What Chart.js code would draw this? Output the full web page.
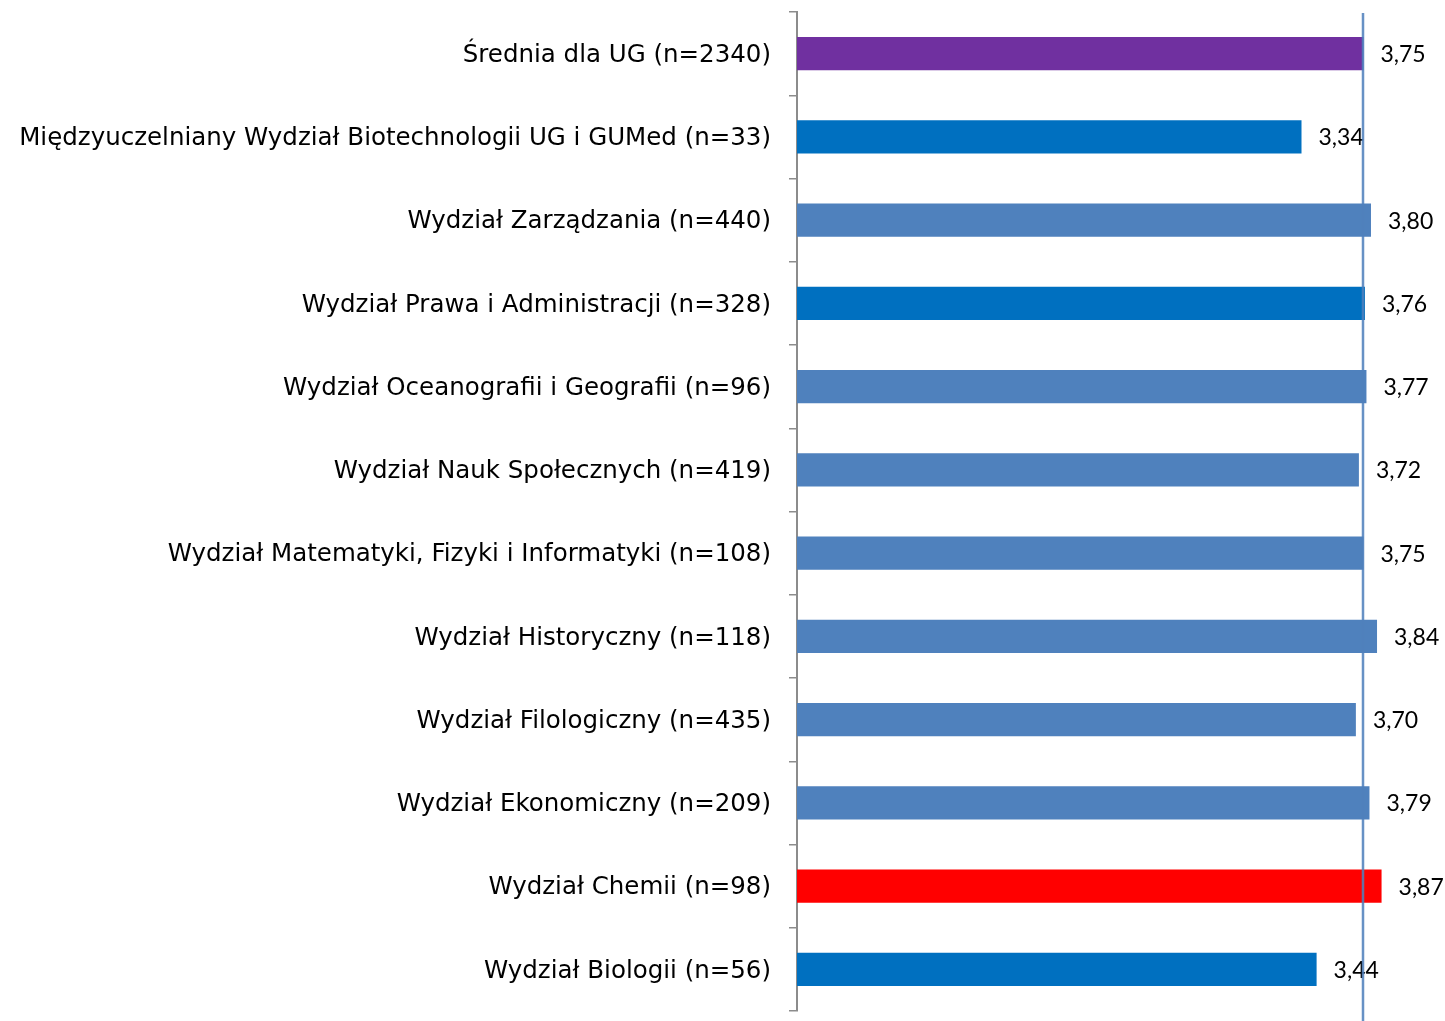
<!DOCTYPE html>
<html>
<head>
<meta charset="utf-8">
<script src="https://cdn.jsdelivr.net/npm/chart.js@4"></script>
<style>
  html, body { margin: 0; padding: 0; background: #fff; }
  #wrap { width: 1445px; height: 1021px; }
</style>
</head>
<body>
<div id="wrap"><canvas id="facultyChart"></canvas></div>
<script>
const categories = [
  'Średnia dla UG (n=2340)',
  'Międzyuczelniany Wydział Biotechnologii UG i GUMed (n=33)',
  'Wydział Zarządzania (n=440)',
  'Wydział Prawa i Administracji (n=328)',
  'Wydział Oceanografii i Geografii (n=96)',
  'Wydział Nauk Społecznych (n=419)',
  'Wydział Matematyki, Fizyki i Informatyki (n=108)',
  'Wydział Historyczny (n=118)',
  'Wydział Filologiczny (n=435)',
  'Wydział Ekonomiczny (n=209)',
  'Wydział Chemii (n=98)',
  'Wydział Biologii (n=56)'
];
const scores = [3.75, 3.34, 3.80, 3.76, 3.77, 3.72, 3.75, 3.84, 3.70, 3.79, 3.87, 3.44];
const barColors = ['#7030A0', '#0070C0', '#4F81BD', '#0070C0', '#4F81BD', '#4F81BD',
  '#4F81BD', '#4F81BD', '#4F81BD', '#4F81BD', '#FF0000', '#0070C0'];
const averageScore = 3.75;

// value labels at the end of each bar
const valueLabels = {
  id: 'valueLabels',
  afterDatasetsDraw(chart) {
    const ctx = chart.ctx;
    const meta = chart.getDatasetMeta(0);
    ctx.save();
    ctx.font = '23px Lato';
    ctx.fillStyle = '#000';
    ctx.textBaseline = 'middle';
    meta.data.forEach((bar, i) => {
      ctx.fillText(scores[i].toFixed(2).replace('.', ','), bar.x + 17, bar.y + 1);
    });
    ctx.restore();
  }
};

// vertical line for the university average
const averageLine = {
  id: 'averageLine',
  afterDraw(chart) {
    const ctx = chart.ctx;
    const x = Math.round(chart.scales.x.getPixelForValue(averageScore));
    ctx.save();
    ctx.strokeStyle = 'rgba(79,129,189,0.45)';
    ctx.lineWidth = 3;
    ctx.beginPath();
    ctx.moveTo(x, chart.chartArea.top + 1);
    ctx.lineTo(x, chart.height);
    ctx.stroke();
    ctx.strokeStyle = '#4F81BD';
    ctx.lineWidth = 1.5;
    ctx.beginPath();
    ctx.moveTo(x, chart.chartArea.top + 1);
    ctx.lineTo(x, chart.height);
    ctx.stroke();
    ctx.restore();
  }
};

const ctx = document.getElementById('facultyChart').getContext('2d');
new Chart(ctx, {
  type: 'bar',
  data: {
    labels: categories,
    datasets: [{
      data: scores,
      backgroundColor: barColors,
      barPercentage: 0.4,
      categoryPercentage: 1
    }]
  },
  options: {
    indexAxis: 'y',
    responsive: true,
    maintainAspectRatio: false,
    animation: false,
    layout: { padding: { top: 12, bottom: 10, left: 0, right: 0 } },
    plugins: {
      legend: { display: false },
      tooltip: { enabled: false }
    },
    scales: {
      x: {
        display: false,
        min: 0,
        max: 4.29
      },
      y: {
        afterFit(scale) {
          scale.width = 797;
          scale.paddingTop = 0;
          scale.paddingBottom = 0;
        },
        border: { display: true, color: '#8C8C8C', width: 2 },
        grid: {
          offset: true,
          drawOnChartArea: false,
          drawTicks: true,
          tickLength: 8,
          color: '#8C8C8C',
          lineWidth: 1.5
        },
        ticks: {
          color: '#000',
          padding: 18,
          labelOffset: 2,
          font: { family: "'DejaVu Sans'", size: 24.5 }
        }
      }
    }
  },
  plugins: [valueLabels, averageLine]
});
</script>
</body>
</html>
